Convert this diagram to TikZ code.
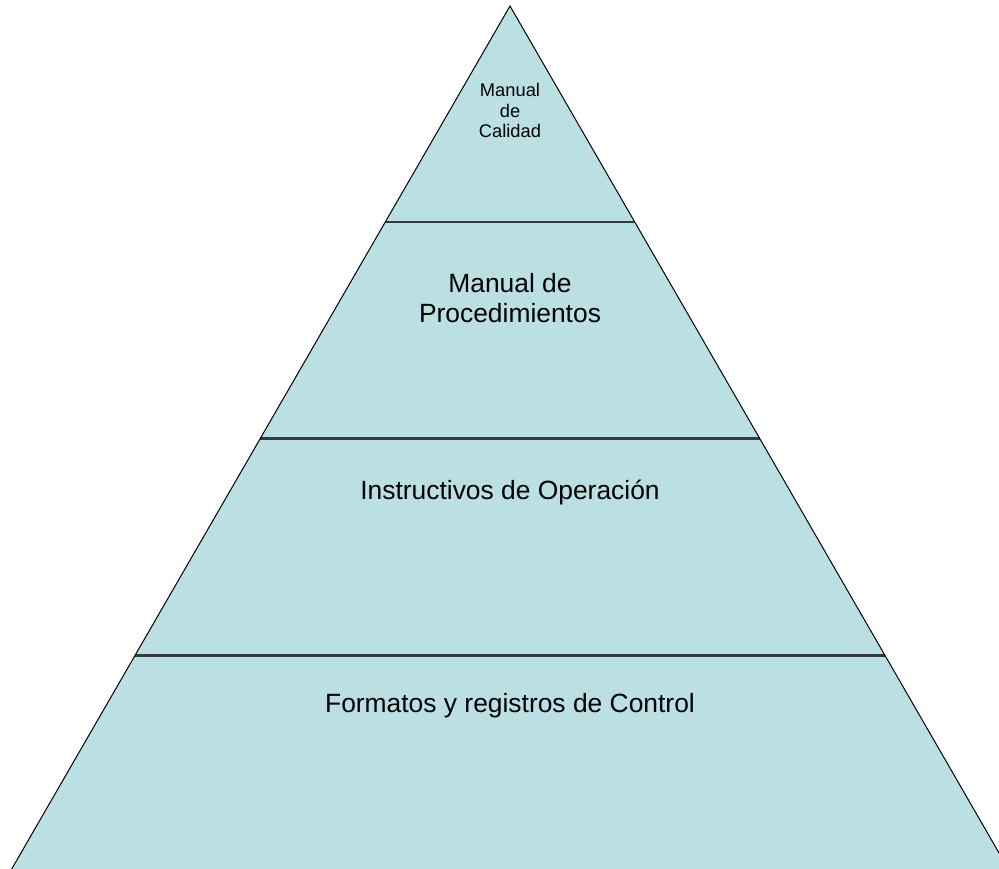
\documentclass[tikz,border=0pt]{standalone}
\usepackage{fontspec}
\setmainfont{Liberation Sans}
\usetikzlibrary{calc}
\definecolor{pyrfill}{HTML}{BBE0E3}
\definecolor{bandline}{HTML}{333C3D}
\tikzset{
  side/.style={draw=black, line width=1pt},
  band/.style={draw=bandline, line width=2.2pt},
  bigtxt/.style={anchor=base, align=center, inner sep=0pt, font=\fontsize{26.4}{30.5}\selectfont},
  smalltxt/.style={anchor=base, align=center, inner sep=0pt, font=\fontsize{18.3}{20.6}\selectfont}
}
\begin{document}
\begin{tikzpicture}[x=1pt,y=-1pt]
\useasboundingbox (0,0) rectangle (999,869);
\clip (0,0) rectangle (999,869);
\coordinate (apex) at (510,6);
\coordinate (bl) at (11.7,869);
\coordinate (br) at (1008.3,869);
\fill[pyrfill] (apex) -- (bl) -- (br) -- cycle;
\coordinate (l1) at ($(apex)!0.2503!(bl)$);
\coordinate (r1) at ($(apex)!0.2503!(br)$);
\coordinate (l2) at ($(apex)!0.5012!(bl)$);
\coordinate (r2) at ($(apex)!0.5012!(br)$);
\coordinate (l3) at ($(apex)!0.7526!(bl)$);
\coordinate (r3) at ($(apex)!0.7526!(br)$);
\draw[band] (l1) -- (r1);
\draw[band] (l2) -- (r2);
\draw[band] (l3) -- (r3);
\draw[side] (bl) -- (apex) -- (br);
\node[smalltxt] (calidad) at (510,138) {Manual\\de\\Calidad};
\node[bigtxt] (proced) at (510,323) {Manual de\\Procedimientos};
\node[bigtxt] (instr) at (510,499) {Instructivos de Operación};
\node[bigtxt] (formatos) at (510,712) {Formatos y registros de Control};
\end{tikzpicture}
\end{document}
